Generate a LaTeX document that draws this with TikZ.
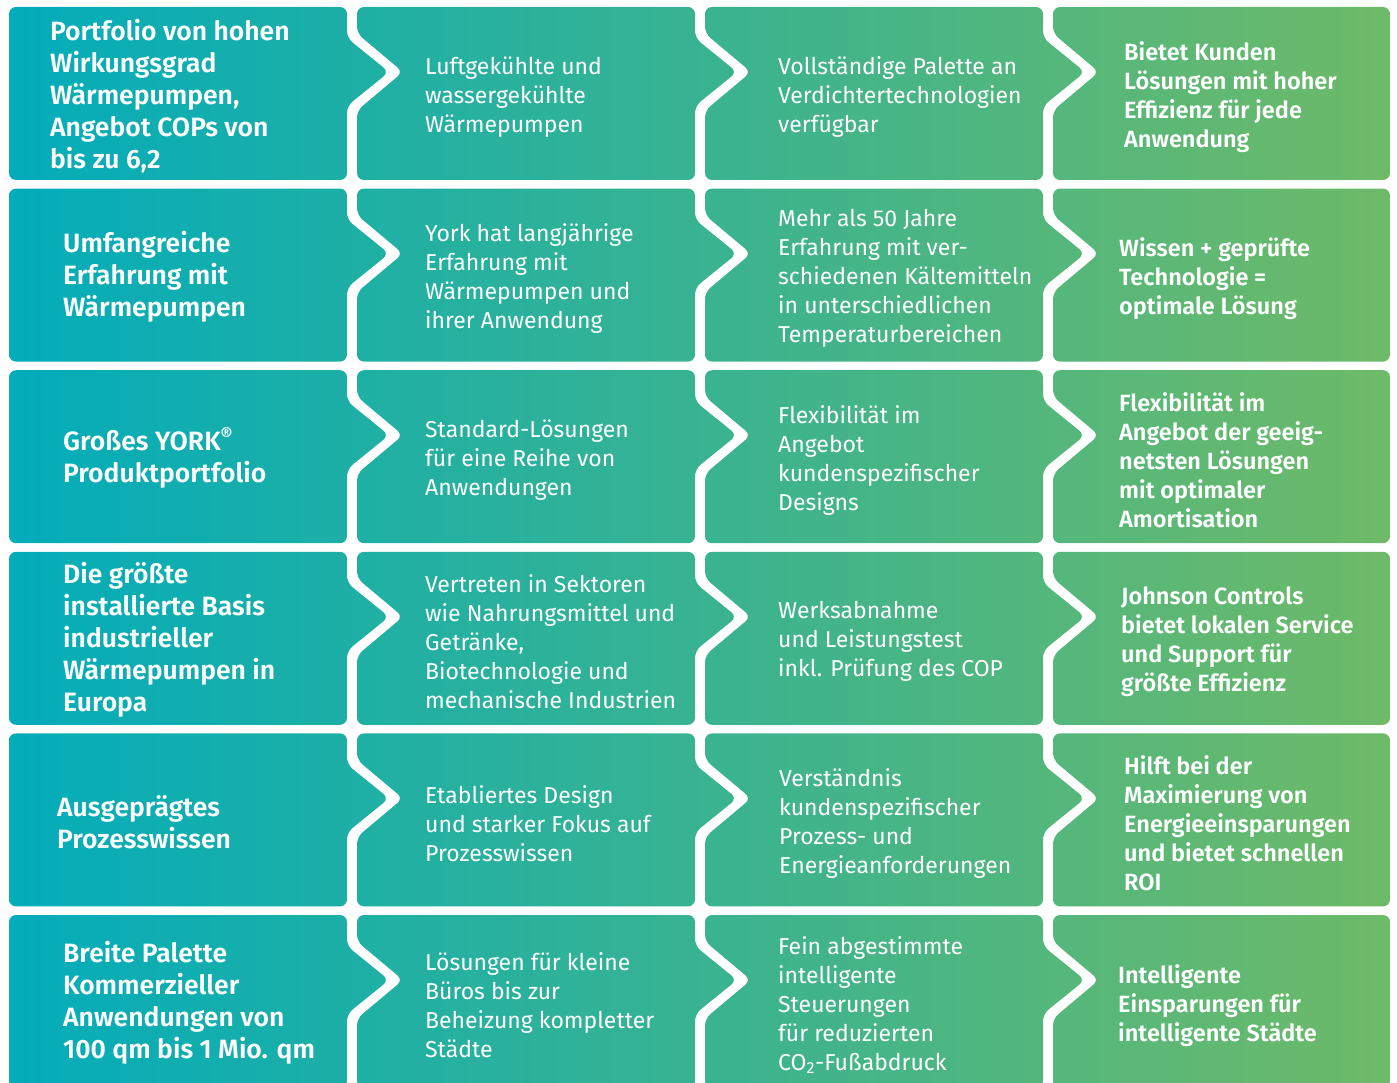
\documentclass[tikz,border=0pt]{standalone}
\usepackage{fontspec}
\setmainfont{Fira Sans}[BoldFont={Fira Sans SemiBold}]
\usepackage{tikz}
\usepackage{xcolor}
\definecolor{jcteal}{HTML}{03ACBA}
\definecolor{jcgreen}{HTML}{6EBA68}
\tikzset{
	lead/.style={font=\fontsize{26.5}{32}\selectfont\bfseries},
	body/.style={font=\fontsize{23}{29}\selectfont},
	gain/.style={font=\fontsize{23.5}{29}\selectfont\bfseries},
}
\begin{document}
\begin{tikzpicture}[x=1pt, y=-1pt, every node/.style={text=white, anchor=west, align=left, inner sep=0pt}]
	\useasboundingbox (0,0) rectangle (1397,1083);
	% cells, cut out of one gradient
	\begin{scope}
		\clip [rounded corners=7pt]
		\foreach \r in {0,...,5}{
			(9,{7+181.6*\r}) -- ++(338,0) -- ++(0,31) -- ++(42,34) -- ++(-42,34) -- ++(0,74) -- ++(-338,0) -- cycle
			\foreach \c in {1,2}{
				({9+348*\c},{7+181.6*\r}) -- ++(338,0) -- ++(0,31) -- ++(42,34) -- ++(-42,34) -- ++(0,74) -- ++(-338,0)
				-- ++(0,-69.4) -- ++(46,-38.6) -- ++(-46,-38.6) -- cycle
			}
			(1053,{7+181.6*\r}) -- ++(337,0) -- ++(0,173) -- ++(-337,0)
			-- ++(0,-69.4) -- ++(46,-38.6) -- ++(-46,-38.6) -- cycle
		};
		\shade [left color=jcteal, right color=jcgreen] (9,0) rectangle (1390,1083);
	\end{scope}
	% first column
	\node [lead] (a1) at (50,96) {Portfolio von hohen\\Wirkungsgrad\\Wärmepumpen,\\Angebot COPs von\\bis zu 6,2};
	\node [lead] (a2) at (63,277) {Umfangreiche\\Erfahrung mit\\Wärmepumpen};
	\node [lead] (a3) at (63,458) {Großes YORK\textsuperscript{\textregistered}\\Produktportfolio};
	\node [lead] (a4) at (63,640) {Die größte\\installierte Basis\\industrieller\\Wärmepumpen in\\Europa};
	\node [lead] (a5) at (57,822) {Ausgeprägtes\\Prozesswissen};
	\node [lead] (a6) at (63,1003) {Breite Palette\\Kommerzieller\\Anwendungen von\\100 qm bis 1 Mio. qm};
	% second column
	\node [body] (b1) at (425,97) {Luftgekühlte und\\wassergekühlte\\Wärmepumpen};
	\node [body] (b2) at (425,278.5) {York hat langjährige\\Erfahrung mit\\Wärmepumpen und\\ihrer Anwendung};
	\node [body] (b3) at (425,460) {Standard-Lösungen\\für eine Reihe von\\Anwendungen};
	\node [body] (b4) at (425,642) {Vertreten in Sektoren\\wie Nahrungsmittel und\\Getränke,\\Biotechnologie und\\mechanische Industrien};
	\node [body] (b5) at (425,823.5) {Etabliertes Design\\und starker Fokus auf\\Prozesswissen};
	\node [body] (b6) at (425,1005) {Lösungen für kleine\\Büros bis zur\\Beheizung kompletter\\Städte};
	% third column
	\node [body] (c1) at (778,97) {Vollständige Palette an\\Verdichtertechnologien\\verfügbar};
	\node [body] (c2) at (778,278.5) {Mehr als 50 Jahre\\Erfahrung mit ver-\\schiedenen Kältemitteln\\in unterschiedlichen\\Temperaturbereichen};
	\node [body] (c3) at (778,460) {Flexibilität im\\Angebot\\kundenspezifischer\\Designs};
	\node [body] (c4) at (778,641.5) {Werksabnahme\\und Leistungstest\\inkl. Prüfung des COP};
	\node [body] (c5) at (779,823.5) {Verständnis\\kundenspezifischer\\Prozess- und\\Energieanforderungen};
	\node [body] (c6) at (778,1005) {Fein abgestimmte\\intelligente\\Steuerungen\\für reduzierten\\CO\textsubscript{2}-Fußabdruck};
	% fourth column
	\node [gain] (d1) at (1124,97.5) {Bietet Kunden\\Lösungen mit hoher\\Effizienz für jede\\Anwendung};
	\node [gain] (d2) at (1119,279) {Wissen + geprüfte\\Technologie =\\optimale Lösung};
	\node [gain] (d3) at (1119,460.5) {Flexibilität im\\Angebot der geeig-\\netsten Lösungen\\mit optimaler\\Amortisation};
	\node [gain] (d4) at (1121,642) {Johnson Controls\\bietet lokalen Service\\und Support für\\größte Effizienz};
	\node [gain] (d5) at (1124,823.5) {Hilft bei der\\Maximierung von\\Energieeinsparungen\\und bietet schnellen\\ROI};
	\node [gain] (d6) at (1118,1005.5) {Intelligente\\Einsparungen für\\intelligente Städte};
\end{tikzpicture}
\end{document}
